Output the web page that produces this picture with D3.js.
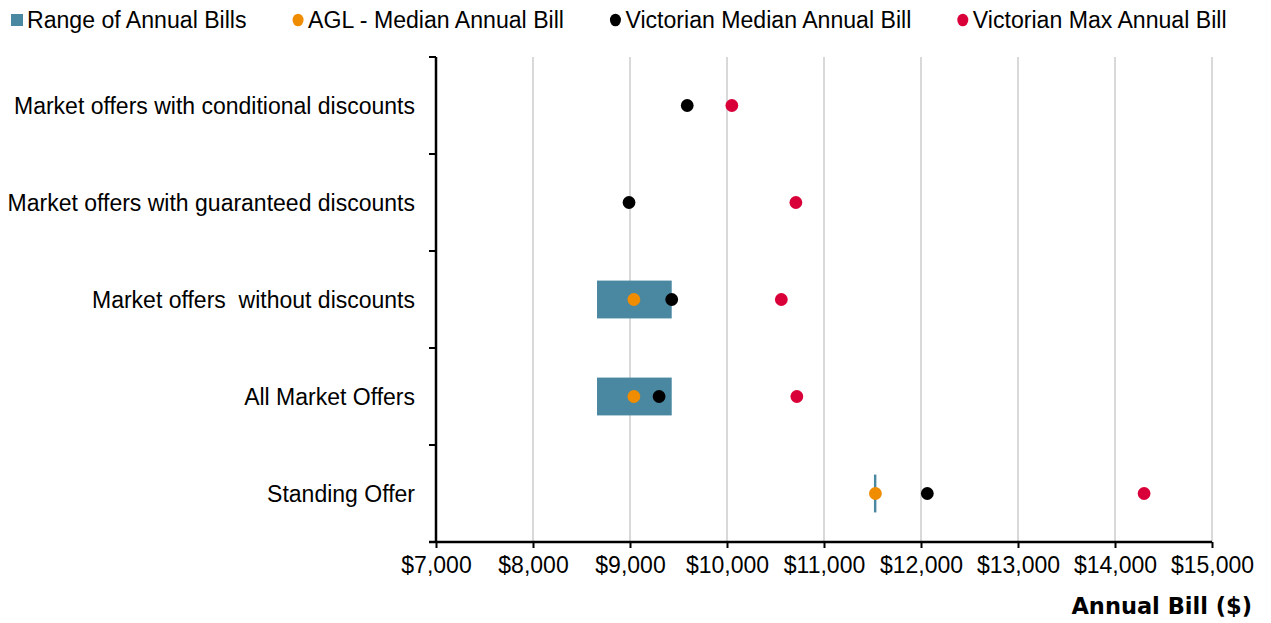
<!DOCTYPE html>
<html>
<head>
<meta charset="utf-8">
<script src="https://cdn.jsdelivr.net/npm/d3@7/dist/d3.min.js"></script>
<style>
    body { margin: 0; background: #fff; }
    text { font-family: 'Liberation Sans', Arial, sans-serif; fill: #000; }
</style>
</head>
<body>
<div id="chart-area"></div>
<script>
// data
var categories = ['Market offers with conditional discounts', 'Market offers with guaranteed discounts',
    'Market offers  without discounts', 'All Market Offers', 'Standing Offer'];
var rangeLow  = [null, null, 8660, 8660, 11515];
var rangeHigh = [null, null, 9430, 9430, 11540];
var aglMedian = [null, null, 9040, 9040, 11530];
var vicMedian = [9590, 8990, 9430, 9300, 12065];
var vicMax    = [10050, 10710, 10560, 10720, 14300];
var xTicks = [7000, 8000, 9000, 10000, 11000, 12000, 13000, 14000, 15000];

var legendItems = [
    { label: 'Range of Annual Bills', color: '#4a87a1', shape: 'rect' },
    { label: 'AGL - Median Annual Bill', color: '#f08c00', shape: 'dot' },
    { label: 'Victorian Median Annual Bill', color: '#000000', shape: 'dot' },
    { label: 'Victorian Max Annual Bill', color: '#d9003a', shape: 'dot' }
];

var W = 1271, H = 623;
var fontSize = '23px';
var margin = { left: 436, right: 59, top: 57, bottom: 81 };
var width = W - margin.left - margin.right,
    height = H - margin.top - margin.bottom;

var svg = d3.select('#chart-area').append('svg')
    .attr('width', W).attr('height', H);

var g = svg.append('g')
    .attr('transform', 'translate(' + margin.left + ',' + margin.top + ')');

// scales
var xScale = d3.scaleLinear().domain([7000, 15000]).range([0, width]);
var yScale = d3.scaleBand().domain(categories).range([0, height]).padding(0);
var bw = yScale.bandwidth();

// gridlines
g.selectAll('.grid').data(xTicks.slice(1)).enter().append('line')
    .attr('x1', function(d) { return xScale(d); })
    .attr('x2', function(d) { return xScale(d); })
    .attr('y1', 0).attr('y2', height)
    .attr('stroke', '#d9d9d9').attr('stroke-width', 2);

// x axis
var xAxis = d3.axisBottom(xScale).tickValues(xTicks).tickFormat(d3.format('$,')).tickSize(6).tickSizeOuter(0).tickPadding(9);
var xAxisGroup = g.append('g').attr('transform', 'translate(0,' + height + ')').call(xAxis);
xAxisGroup.select('.domain').attr('stroke', '#000').attr('stroke-width', 2.5).attr('d', 'M-7,0H' + width);
xAxisGroup.selectAll('.tick line').attr('stroke', '#000').attr('stroke-width', 2);
xAxisGroup.selectAll('.tick text').style('font-size', fontSize).style('font-family', "'Liberation Sans', Arial, sans-serif").attr('fill', '#000');

// y axis: ticks between the categories
var yEdges = d3.range(categories.length + 1).map(function(i) { return i * bw; });
g.append('line').attr('x1', 0).attr('x2', 0).attr('y1', 0).attr('y2', height)
    .attr('stroke', '#000').attr('stroke-width', 2.5);
g.selectAll('.ytick').data(yEdges).enter().append('line')
    .attr('x1', -7).attr('x2', 0)
    .attr('y1', function(d) { return d; }).attr('y2', function(d) { return d; })
    .attr('stroke', '#000').attr('stroke-width', 2);

g.selectAll('.cat').data(categories).enter().append('text')
    .attr('x', -21)
    .attr('y', function(d) { return yScale(d) + bw / 2 + 8; })
    .attr('text-anchor', 'end')
    .style('font-size', fontSize)
    .style('white-space', 'pre')
    .text(function(d) { return d; });

// range bars
var rows = categories.map(function(c, i) {
    return { cat: c, low: rangeLow[i], high: rangeHigh[i], agl: aglMedian[i], med: vicMedian[i], max: vicMax[i] };
});
var barH = bw * 0.39;

g.selectAll('.bar').data(rows.filter(function(d) { return d.low !== null; })).enter().append('rect')
    .attr('x', function(d) { return xScale(d.low); })
    .attr('y', function(d) { return yScale(d.cat) + (bw - barH) / 2; })
    .attr('width', function(d) { return xScale(d.high) - xScale(d.low); })
    .attr('height', barH)
    .attr('fill', legendItems[0].color);

// dots
function dots(key, color) {
    g.selectAll('.dot-' + key).data(rows.filter(function(d) { return d[key] !== null; })).enter().append('circle')
        .attr('cx', function(d) { return xScale(d[key]); })
        .attr('cy', function(d) { return yScale(d.cat) + bw / 2; })
        .attr('r', 6.4)
        .attr('fill', color);
}
dots('agl', legendItems[1].color);
dots('med', legendItems[2].color);
dots('max', legendItems[3].color);

// axis title
svg.append('text')
    .attr('x', 1252).attr('y', 614)
    .attr('text-anchor', 'end')
    .style('font-family', "'DejaVu Sans', Verdana, sans-serif")
    .style('font-weight', 'bold')
    .style('font-size', '22.5px')
    .text('Annual Bill ($)');

// legend, laid out left to right
var lx = 11;
legendItems.forEach(function(item) {
    var row = svg.append('g').attr('transform', 'translate(' + lx + ',20)');
    if (item.shape === 'rect') {
        row.append('rect').attr('x', 0).attr('y', -6).attr('width', 12).attr('height', 12).attr('fill', item.color);
    } else {
        row.append('ellipse').attr('cx', 6).attr('cy', 0).attr('rx', 5.5).attr('ry', 6.3).attr('fill', item.color);
    }
    var t = row.append('text').attr('x', 16).attr('y', 8).style('font-size', '23.1px').text(item.label);
    lx += 16 + t.node().getComputedTextLength() + 45.5;
});
</script>
</body>
</html>
